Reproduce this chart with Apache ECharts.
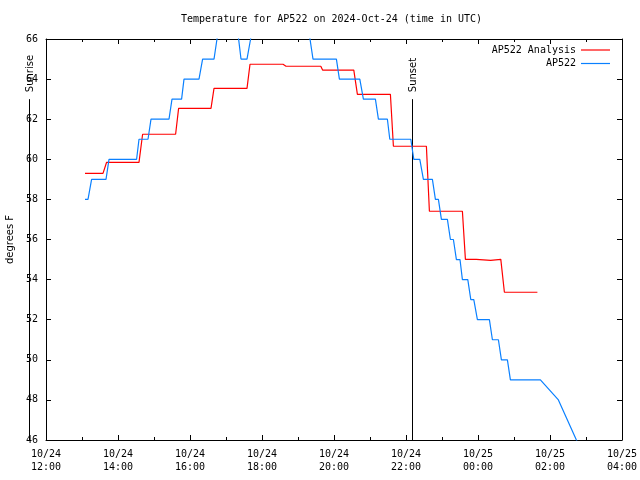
<!DOCTYPE html>
<html><head><meta charset="utf-8">
<script src="https://cdn.jsdelivr.net/npm/echarts@6/dist/echarts.min.js"></script>
<style>html,body{margin:0;padding:0;background:#fff}#c{width:640px;height:480px}</style>
</head><body><div id="c"></div>
<script>
const titleText = 'Temperature for AP522 on 2024-Oct-24 (time in UTC)';
const yAxisName = 'degrees F';
const seriesNames = ['AP522 Analysis', 'AP522'];
const seriesColors = ['#ff0000', '#0a80ff'];

const analysisTimes = ['10/24 13:05','10/24 13:35','10/24 13:41','10/24 14:35','10/24 14:41','10/24 15:36','10/24 15:41','10/24 16:35','10/24 16:40','10/24 17:35','10/24 17:40','10/24 18:35','10/24 18:40','10/24 19:38','10/24 19:41','10/24 20:33','10/24 20:39','10/24 21:34','10/24 21:39','10/24 22:34','10/24 22:39','10/24 23:34','10/24 23:39','10/24 23:57','10/24 23:58','10/25 00:21','10/25 00:22','10/25 00:38','10/25 00:44','10/25 01:39'];
const analysisTemps = [59.3,59.3,59.85,59.85,61.25,61.25,62.54,62.54,63.54,63.54,64.74,64.74,64.64,64.64,64.45,64.45,63.24,63.24,60.65,60.65,57.41,57.41,55.01,55.01,54.96,54.96,55.01,55.01,53.37,53.37];

const obsTimes = ['10/24 13:05','10/24 13:10','10/24 13:16','10/24 13:40','10/24 13:45','10/24 14:31','10/24 14:35','10/24 14:50','10/24 14:55','10/24 15:25','10/24 15:30','10/24 15:46','10/24 15:50','10/24 16:15','10/24 16:21','10/24 16:40','10/24 16:45','10/24 16:50','10/24 17:16','10/24 17:21','10/24 17:25','10/24 17:35','10/24 17:41','10/24 17:46','10/24 19:15','10/24 19:20','10/24 19:25','10/24 20:04','10/24 20:09','10/24 20:43','10/24 20:49','10/24 21:09','10/24 21:14','10/24 21:29','10/24 21:33','10/24 22:08','10/24 22:13','10/24 22:23','10/24 22:29','10/24 22:44','10/24 22:49','10/24 22:54','10/24 22:59','10/24 23:09','10/24 23:14','10/24 23:19','10/24 23:24','10/24 23:30','10/24 23:34','10/24 23:43','10/24 23:48','10/24 23:53','10/24 23:59','10/25 00:19','10/25 00:24','10/25 00:34','10/25 00:39','10/25 00:49','10/25 00:54','10/25 01:44','10/25 02:14','10/25 02:44','10/25 03:00'];
const obsTemps = [58,58,59,59,60,60,61,61,62,62,63,63,64,64,65,65,66,67,67,66,65,65,66,67,67,66,65,65,64,64,63,63,62,62,61,61,60,60,59,59,58,58,57,57,56,56,55,55,54,54,53,53,52,52,51,51,50,50,49,49,48,46,45];

const eventNames = ['Sunrise', 'Sunset'];
const eventTimes = ['10/24 11:32', '10/24 22:11'];

const xMin = 12, xMax = 28, xStep = 2;
const yMin = 46, yMax = 66, yStep = 2;
const eventLineTop = 63;

function toHours(s) {
  const parts = s.split(' ');
  const day = +parts[0].split('/')[1];
  const hm = parts[1].split(':').map(Number);
  return (day - 24) * 24 + hm[0] + hm[1] / 60;
}
function pad(n){ return (n < 10 ? '0' : '') + n; }
function xLabel(v) {
  const day = 24 + Math.floor(v / 24);
  const h = Math.round(v) % 24;
  return '10/' + day + '\n' + pad(h) + ':00';
}

const mono = "'DejaVu Sans Mono', monospace";
const sans = "'DejaVu Sans', sans-serif";

const chart = echarts.init(document.getElementById('c'), null, {renderer: 'canvas'});

const axisCommonX = {
  type: 'value', min: xMin, max: xMax, interval: xStep,
  axisLine: {show: true, onZero: false, lineStyle: {color: '#000', width: 1}},
  axisTick: {show: true, inside: true, length: 5, lineStyle: {color: '#000'}},
  minorTick: {show: true, splitNumber: 2, length: 3, lineStyle: {color: '#000'}},
  splitLine: {show: false}
};
const axisCommonY = {
  type: 'value', min: yMin, max: yMax, interval: yStep,
  axisLine: {show: true, onZero: false, lineStyle: {color: '#000', width: 1}},
  axisTick: {show: true, inside: true, length: 5, lineStyle: {color: '#000'}},
  splitLine: {show: false}
};

const option = {
  animation: false,
  backgroundColor: '#fff',
  title: {
    text: titleText, left: 181, top: 13, padding: 0,
    textStyle: {fontFamily: mono, fontSize: 10, fontWeight: 'normal', color: '#000', lineHeight: 12}
  },
  legend: {
    orient: 'vertical', right: 30, top: 44, align: 'right', padding: 0,
    icon: 'rect', itemWidth: 29, itemHeight: 1.2, itemGap: 1.5,
    textStyle: {fontFamily: mono, fontSize: 10, color: '#000', lineHeight: 12},
    data: seriesNames
  },
  grid: {left: 46, right: 18, top: 39, bottom: 40, containLabel: false, outerBoundsMode: 'none'},
  xAxis: [
    Object.assign({}, axisCommonX, {
      position: 'bottom',
      axisLabel: {show: true, margin: 8, formatter: xLabel, fontFamily: mono, fontSize: 10, color: '#000', lineHeight: 13}
    }),
    Object.assign({}, axisCommonX, {position: 'top', axisLabel: {show: false}})
  ],
  yAxis: [
    Object.assign({}, axisCommonY, {
      position: 'left',
      name: yAxisName, nameLocation: 'middle', nameGap: 30, nameRotate: 90,
      nameTextStyle: {fontFamily: sans, fontSize: 10, color: '#000'},
      axisLabel: {show: true, margin: 8, fontFamily: mono, fontSize: 10, color: '#000'}
    }),
    Object.assign({}, axisCommonY, {position: 'right', axisLabel: {show: false}})
  ],
  series: [
    {
      name: seriesNames[0], type: 'line', xAxisIndex: 0, yAxisIndex: 0,
      showSymbol: false, symbol: 'none', clip: true,
      color: seriesColors[0],
      lineStyle: {color: seriesColors[0], width: 1.2},
      data: analysisTimes.map((t, i) => [toHours(t), analysisTemps[i]])
    },
    {
      name: seriesNames[1], type: 'line', xAxisIndex: 0, yAxisIndex: 0,
      showSymbol: false, symbol: 'none', clip: true,
      color: seriesColors[1],
      lineStyle: {color: seriesColors[1], width: 1.2},
      data: obsTimes.map((t, i) => [toHours(t), obsTemps[i]])
    },
    {
      type: 'custom', xAxisIndex: 0, yAxisIndex: 0, clip: false, silent: true,
      data: eventTimes.map((t, i) => [toHours(t), eventNames[i]]),
      renderItem: function (params, api) {
        const t = api.value(0);
        const name = eventNames[params.dataIndex];
        const p0 = api.coord([t, yMin]);
        const p1 = api.coord([t, eventLineTop]);
        const x = Math.floor(p0[0]) + 0.5;
        return {
          type: 'group',
          children: [
            {type: 'line', shape: {x1: x, y1: p0[1], x2: x, y2: p1[1]}, style: {stroke: '#000', lineWidth: 1}},
            {type: 'text', x: x + 1, y: p1[1] - 7, rotation: Math.PI / 2,
             style: {text: name, align: 'left', verticalAlign: 'middle', fontFamily: sans, fontSize: 10, fill: '#000'}}
          ]
        };
      }
    }
  ]
};
chart.setOption(option);
</script>
</body></html>
